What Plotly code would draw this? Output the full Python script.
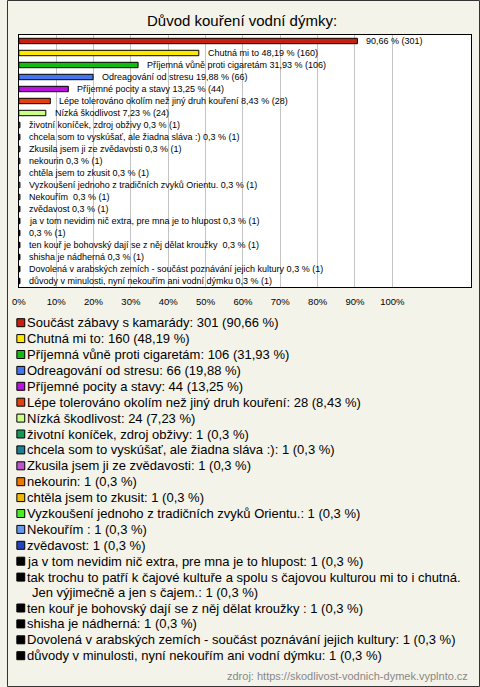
import textwrap
import plotly.graph_objects as go

# ---------------- data ----------------
title_text = "Důvod kouření vodní dýmky:"
source_text = "zdroj: https://skodlivost-vodnich-dymek.vyplnto.cz"

categories = [
    "Součást zábavy s kamarády",
    "Chutná mi to",
    "Příjemná vůně proti cigaretám",
    "Odreagování od stresu",
    "Příjemné pocity a stavy",
    "Lépe tolerováno okolím než jiný druh kouření",
    "Nízká škodlivost",
    "životní koníček, zdroj obživy",
    "chcela som to vyskúšať, ale žiadna sláva :)",
    "Zkusila jsem ji ze zvědavosti",
    "nekourin",
    "chtěla jsem to zkusit",
    "Vyzkoušení jednoho z tradičních zvyků Orientu.",
    "Nekouřím ",
    "zvědavost",
    "ja v tom nevidim nič extra, pre mna je to hlupost",
    "tak trochu to patří k čajové kultuře a spolu s čajovou kulturou mi to i chutná. Jen výjimečně a jen s čajem.",
    "ten kouř je bohovský dají se z něj dělat kroužky ",
    "shisha je nádherná",
    "Dovolená v arabských zemích - součást poznávání jejich kultury",
    "důvody v minulosti, nyní nekouřím ani vodní dýmku",
]
counts = [301, 160, 106, 66, 44, 28, 24, 1, 1, 1, 1, 1, 1, 1, 1, 1, 1, 1, 1, 1, 1]
percents = [90.66, 48.19, 31.93, 19.88, 13.25, 8.43, 7.23,
            0.3, 0.3, 0.3, 0.3, 0.3, 0.3, 0.3, 0.3, 0.3, 0.3, 0.3, 0.3, 0.3, 0.3]
show_name_on_bar = [False, True, True, True, True, True, True,
                    True, True, True, True, True, True, True, True, True,
                    False, True, True, True, True]
colors = ["#C8200E", "#FFE800", "#11BB11", "#4477EE", "#BB11DD", "#E4400E", "#CCFF88",
          "#119955", "#1F7F90", "#BB55CC", "#EE7700", "#EEBB00", "#44EE22", "#6699EE",
          "#2244BB", "#000000", "#000000", "#000000", "#000000", "#000000", "#000000"]
tick_values = [0, 10, 20, 30, 40, 50, 60, 70, 80, 90, 100]
tick_labels = [f"{v}%" for v in tick_values]

# ---------------- layout constants ----------------
W, H = 480, 687
BG = "#F4F3EA"
FONT = "Liberation Sans, Arial, sans-serif"
PX = lambda x: x / W
PY = lambda y: 1 - y / H

plot_left, plot_right, plot_top, plot_bottom = 12, 471, 35, 287
x_max = (plot_right - plot_left) / 37.9 * 10

def fmt(v):
    return str(v).replace(".", ",")

n = len(categories)
ypos = list(range(n))

fig = go.Figure()
fig.add_trace(go.Bar(
    x=percents, y=ypos, orientation="h", width=0.45,
    marker=dict(color=colors, line=dict(color="#000000", width=1)),
    hoverinfo="skip", showlegend=False,
))

annotations = []
shapes = []

# bar value labels
for i, (name, c, p, show) in enumerate(zip(categories, counts, percents, show_name_on_bar)):
    txt = (name + " " if show else "") + f"{fmt(p)} % ({c})"
    annotations.append(dict(
        x=p, y=i, xref="x", yref="y", text=txt, showarrow=False,
        xanchor="left", yanchor="middle", xshift=7,
        font=dict(family=FONT, size=9, color="#000000"),
    ))

# title
annotations.append(dict(
    x=PX(238), y=PY(20), xref="paper", yref="paper", text=title_text,
    showarrow=False, xanchor="center", yanchor="middle",
    font=dict(family=FONT, size=15, color="#000000"),
))

# manual legend
item_pitch = 15.9
line_pitch = 15.0
first_line = 322.7
extra = 0.0
for idx, (name, c, p, col) in enumerate(zip(categories, counts, percents, colors)):
    label = f"{name}: {c} ({fmt(p)} %)"
    lines = textwrap.wrap(label, width=82)
    yc = first_line + idx * item_pitch + extra
    shapes.append(dict(
        type="rect", xref="paper", yref="paper",
        x0=PX(10), x1=PX(18), y0=PY(yc - 4), y1=PY(yc + 4),
        fillcolor=col, line=dict(color="#000000", width=1),
    ))
    for k, line in enumerate(lines):
        annotations.append(dict(
            x=PX(18 if k == 0 else 23), y=PY(yc + k * line_pitch),
            xref="paper", yref="paper", text=line,
            showarrow=False, xanchor="left", yanchor="middle", align="left",
            font=dict(family=FONT, size=13, color="#000000"),
        ))
    extra += (len(lines) - 1) * line_pitch

# source
annotations.append(dict(
    x=PX(470), y=PY(676), xref="paper", yref="paper", text=source_text,
    showarrow=False, xanchor="right", yanchor="middle",
    font=dict(family=FONT, size=11, color="#888888"),
))

# outer frame
shapes.append(dict(
    type="rect", xref="paper", yref="paper",
    x0=PX(0.5), x1=PX(W - 0.5), y0=PY(H - 0.5), y1=PY(0.5),
    line=dict(color="#333333", width=1), fillcolor="rgba(0,0,0,0)", layer="above",
))

fig.update_layout(
    width=W, height=H, autosize=False,
    margin=dict(l=0, r=0, t=0, b=0, pad=0),
    paper_bgcolor=BG, plot_bgcolor="#FFFFFF",
    font=dict(family=FONT, color="#000000"),
    annotations=annotations, shapes=shapes, showlegend=False,
    xaxis=dict(
        domain=[PX(plot_left), PX(plot_right)], range=[0, x_max],
        tickmode="array", tickvals=tick_values, ticktext=tick_labels,
        showgrid=True, gridcolor="#C4C4C4",
        gridwidth=1, zeroline=False, showline=True, linecolor="#000000",
        linewidth=1, mirror=True, ticks="", tickfont=dict(family=FONT, size=9.5),
        ticklabelstandoff=6, fixedrange=True,
    ),
    yaxis=dict(
        domain=[PY(plot_bottom), PY(plot_top)], range=[n - 0.5, -0.5],
        showticklabels=False, showgrid=False, zeroline=False, showline=True,
        linecolor="#000000", linewidth=1, mirror=True, ticks="", fixedrange=True,
    ),
    bargap=0.5,
)

fig.write_html(
    "out.html",
    config={"displayModeBar": False},
    post_script="document.body.style.margin='0';document.body.style.overflow='hidden';",
)
